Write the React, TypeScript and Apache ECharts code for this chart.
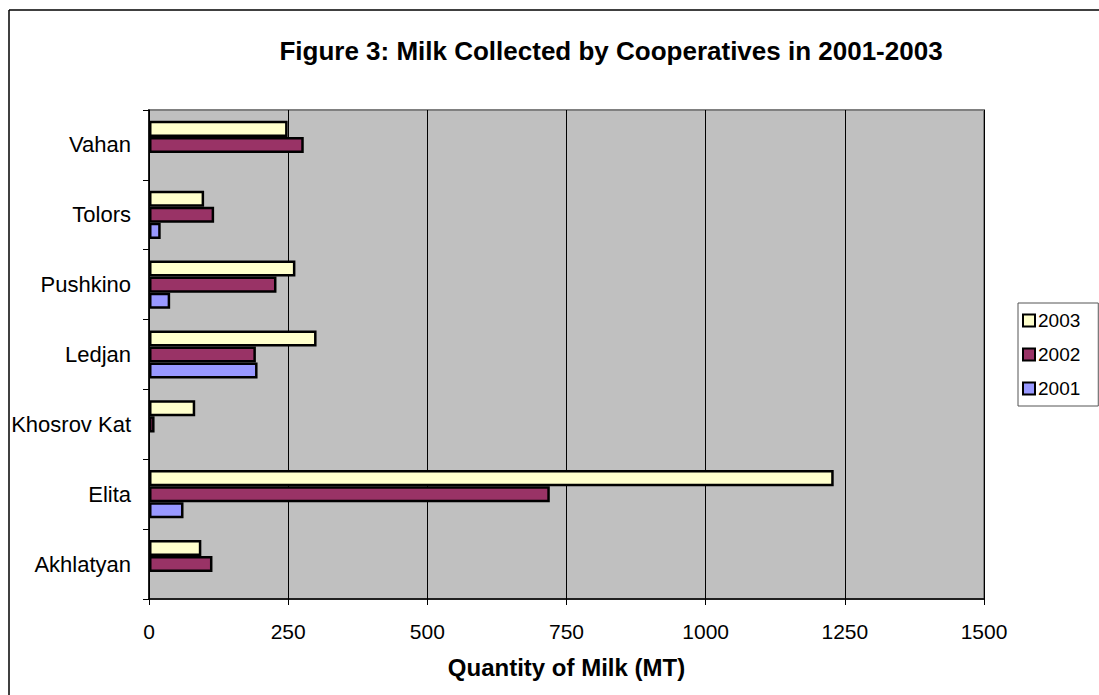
import React, { useEffect, useRef } from "react";
import * as echarts from "echarts";

const categories = ["Akhlatyan", "Elita", "Khosrov Kat", "Ledjan", "Pushkino", "Tolors", "Vahan"];
const values2003 = [94, 1230, 83, 301, 263, 99, 249];
const values2002 = [114, 720, 10, 192, 229, 117, 278];
const values2001 = [null, 62, null, 195, 38, 21, null];
const seriesNames = ["2003", "2002", "2001"];
const xTicks = { min: 0, max: 1500, interval: 250 };

const FONT = "'Liberation Sans', Arial, sans-serif";

export default function App() {
  const ref = useRef<HTMLDivElement>(null);
  useEffect(() => {
    if (!ref.current) return;
    const chart = echarts.init(ref.current, null, { renderer: "svg" });
    const colors = ["#FFFFCC", "#993366", "#9999FF"];
    const data = [values2003, values2002, values2001];
    chart.setOption({
      animation: false,
      textStyle: { fontFamily: FONT },
      title: {
        text: "Figure 3: Milk Collected by Cooperatives in 2001-2003",
        left: 611,
        top: 38,
        padding: 0,
        textAlign: "center",
        textStyle: { fontFamily: FONT, fontSize: 26, fontWeight: "bold", color: "#000" },
      },
      graphic: [
        {
          type: "line",
          shape: { x1: 9, y1: 10, x2: 1099, y2: 10 },
          style: { stroke: "#000", lineWidth: 1.5 },
          z: -10,
          silent: true,
        },
        {
          type: "line",
          shape: { x1: 9, y1: 10, x2: 9, y2: 695 },
          style: { stroke: "#000", lineWidth: 1.5 },
          z: -10,
          silent: true,
        },
      ],
      legend: {
        orient: "vertical",
        left: 1018,
        top: 303,
        padding: [8, 18, 8, 4],
        borderColor: "#555",
        borderWidth: 1,
        itemWidth: 12,
        itemHeight: 12,
        itemGap: 15,
        icon: "rect",
        data: seriesNames,
        textStyle: { fontFamily: FONT, fontSize: 19, color: "#000", padding: [0, 0, 0, -2] },
      },
      grid: {
        left: 149,
        top: 110,
        width: 835,
        height: 489,
        show: true,
        backgroundColor: "#C0C0C0",
        borderColor: "#808080",
        borderWidth: 2,
      },
      xAxis: {
        type: "value",
        min: xTicks.min,
        max: xTicks.max,
        interval: xTicks.interval,
        name: "Quantity of Milk (MT)",
        nameLocation: "middle",
        nameGap: 56,
        nameTextStyle: { fontFamily: FONT, fontSize: 24, fontWeight: "bold", color: "#000" },
        axisLine: { show: true, lineStyle: { color: "#000", width: 1.5 } },
        axisTick: { show: true, length: 6, lineStyle: { color: "#000" } },
        axisLabel: {
          fontFamily: FONT,
          fontSize: 21,
          color: "#000",
          margin: 22,
          formatter: (v: number) => String(v),
        },
        splitLine: { show: true, lineStyle: { color: "#000", width: 1 } },
      },
      yAxis: {
        type: "category",
        data: categories,
        axisLine: { show: true, lineStyle: { color: "#000", width: 1.5 } },
        axisTick: { show: true, length: 6, lineStyle: { color: "#000" } },
        axisLabel: { fontFamily: FONT, fontSize: 22, color: "#000", margin: 18 },
        splitLine: { show: false },
      },
      series: seriesNames.map((name, i) => ({
        name,
        type: "bar",
        data: data[i],
        barGap: "0%",
        barCategoryGap: "31%",
        itemStyle: { color: colors[i], borderColor: "#000", borderWidth: 2.5 },
      })),
    });
    return () => chart.dispose();
  }, []);
  return (
    <div
      ref={ref}
      style={{ position: "absolute", left: 0, top: 0, width: 1099, height: 695 }}
    />
  );
}
